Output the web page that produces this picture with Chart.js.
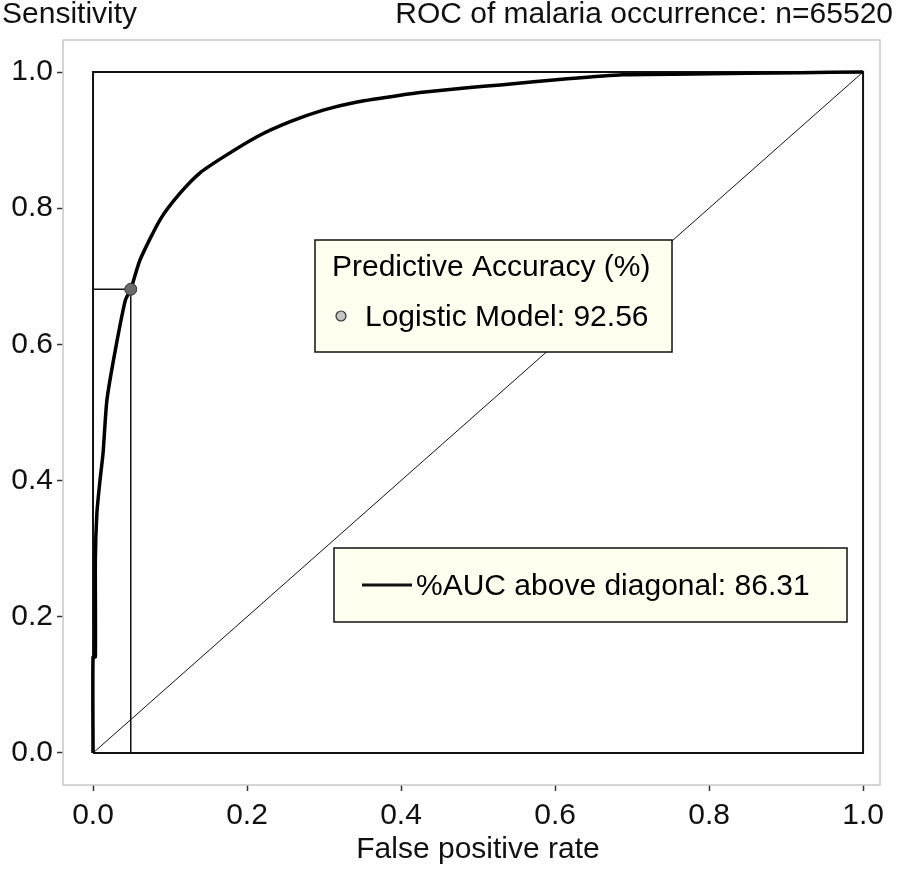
<!DOCTYPE html>
<html>
<head>
<meta charset="utf-8">
<script src="https://cdn.jsdelivr.net/npm/chart.js@4.4.1/dist/chart.umd.min.js"></script>
<style>
  body { margin: 0; background: #fff; }
  #wrap { width: 898px; height: 869px; }
</style>
</head>
<body>
<div id="wrap"><canvas id="roc-chart" width="898" height="869"></canvas></div>
<script>
// ROC curve
const fpr = [0, 0, 0.003, 0.003, 0.005, 0.009, 0.013, 0.018, 0.029, 0.042, 0.049, 0.061, 0.087, 0.113,
  0.139, 0.169, 0.213, 0.256, 0.299, 0.343, 0.399, 0.434, 0.486, 0.529, 0.616, 0.688, 0.779, 0.918, 1.0];
const tpr = [0, 0.141, 0.141, 0.283, 0.352, 0.40, 0.44, 0.518, 0.592, 0.665, 0.681, 0.724, 0.783, 0.822,
  0.852, 0.875, 0.905, 0.927, 0.944, 0.956, 0.966, 0.971, 0.977, 0.981, 0.990, 0.996, 0.997, 0.999, 1.0];
const cutoff = { fpr: 0.049, tpr: 0.681 };
const tickValues = [0, 0.2, 0.4, 0.6, 0.8, 1.0];
const titleText = "ROC of malaria occurrence: n=65520";
const accuracyText = "Logistic Model: 92.56";
const aucText = "%AUC above diagonal: 86.31";

const FONT = "Liberation Sans, Arial, sans-serif";
const ink = "#000";

const curve = fpr.map((x, i) => ({ x: x, y: tpr[i] }));

const overlay = {
  id: "overlay",
  beforeDatasetsDraw(chart) {
    const { ctx, chartArea: a } = chart;
    ctx.save();
    ctx.strokeStyle = "#c8c8c8";
    ctx.lineWidth = 1.5;
    ctx.strokeRect(a.left, a.top, a.right - a.left, a.bottom - a.top);
    ctx.restore();
  },
  afterDatasetsDraw(chart) {
    const { ctx } = chart;
    ctx.save();
    ctx.font = "30px " + FONT;
    ctx.textBaseline = "middle";
    ctx.fillStyle = "#111";
    ctx.textAlign = "left";
    ctx.fillText("Sensitivity", 2, 15);
    ctx.textAlign = "right";
    ctx.fillText(titleText, 893, 15);
    ctx.textAlign = "center";
    ctx.fillText("False positive rate", 478, 850);

    // legend: predictive accuracy
    ctx.fillStyle = "#fffff0";
    ctx.strokeStyle = "#111";
    ctx.lineWidth = 1.5;
    ctx.fillRect(315, 240, 357, 112);
    ctx.strokeRect(315, 240, 357, 112);
    ctx.fillStyle = ink;
    ctx.textAlign = "left";
    ctx.fillText("Predictive Accuracy (%)", 332, 268);
    ctx.fillText(accuracyText, 365, 318);
    ctx.beginPath();
    ctx.arc(341, 316, 5, 0, Math.PI * 2);
    ctx.fillStyle = "#c4c4c4";
    ctx.fill();
    ctx.lineWidth = 1.2;
    ctx.strokeStyle = "#333";
    ctx.stroke();

    // legend: AUC
    ctx.fillStyle = "#fffff0";
    ctx.strokeStyle = "#111";
    ctx.lineWidth = 1.5;
    ctx.fillRect(334, 548, 513, 74);
    ctx.strokeRect(334, 548, 513, 74);
    ctx.beginPath();
    ctx.moveTo(362, 585);
    ctx.lineTo(412, 585);
    ctx.lineWidth = 3;
    ctx.stroke();
    ctx.fillStyle = ink;
    ctx.fillText(aucText, 416, 587);
    ctx.restore();
  }
};

const axisCommon = {
  type: "linear",
  afterBuildTicks: (scale) => { scale.ticks = tickValues.map(v => ({ value: v })); },
  grid: { drawOnChartArea: false, drawTicks: true, tickLength: 6, tickColor: "#333", tickWidth: 1.5 },
  border: { display: false },
};

const config = {
  type: "scatter",
  data: {
    datasets: [
      {
        label: "cutoff point",
        data: [{ x: cutoff.fpr, y: cutoff.tpr }],
        pointRadius: 6,
        pointBackgroundColor: "#6a6a6a",
        pointBorderColor: "#333",
        pointBorderWidth: 1,
      },
      {
        label: "ROC",
        data: curve,
        showLine: true,
        borderColor: "#000",
        borderWidth: 3.5,
        pointRadius: 0,
        tension: 0.2,
      },
      {
        label: "cutoff lines",
        data: [{ x: 0, y: cutoff.tpr }, { x: cutoff.fpr, y: cutoff.tpr }, { x: cutoff.fpr, y: 0 }],
        showLine: true,
        borderColor: "#111",
        borderWidth: 1.5,
        pointRadius: 0,
      },
      {
        label: "diagonal",
        data: [{ x: 0, y: 0 }, { x: 1, y: 1 }],
        showLine: true,
        borderColor: "#111",
        borderWidth: 1,
        pointRadius: 0,
      },
      {
        label: "unit box",
        data: [{ x: 0, y: 0 }, { x: 1, y: 0 }, { x: 1, y: 1 }, { x: 0, y: 1 }, { x: 0, y: 0 }],
        showLine: true,
        borderColor: "#111",
        borderWidth: 2,
        pointRadius: 0,
      },
    ],
  },
  options: {
    responsive: false,
    animation: false,
    layout: { padding: { top: 40, right: 18, left: 0, bottom: 0 } },
    plugins: { legend: { display: false }, tooltip: { enabled: false }, title: { display: false } },
    scales: {
      x: Object.assign({}, axisCommon, {
        min: -0.039, max: 1.022,
        afterFit: (scale) => { scale.height = 84; },
        ticks: { font: { family: FONT, size: 30 }, color: "#111", padding: 7, maxRotation: 0,
          callback: (v) => v.toFixed(1) },
      }),
      y: Object.assign({}, axisCommon, {
        min: -0.047, max: 1.047,
        afterFit: (scale) => { scale.width = 63; },
        ticks: { font: { family: FONT, size: 30 }, color: "#111", padding: 4,
          callback: (v) => v.toFixed(1) },
      }),
    },
  },
  plugins: [overlay],
};

const rocChart = new Chart(document.getElementById("roc-chart"), config);
</script>
</body>
</html>
